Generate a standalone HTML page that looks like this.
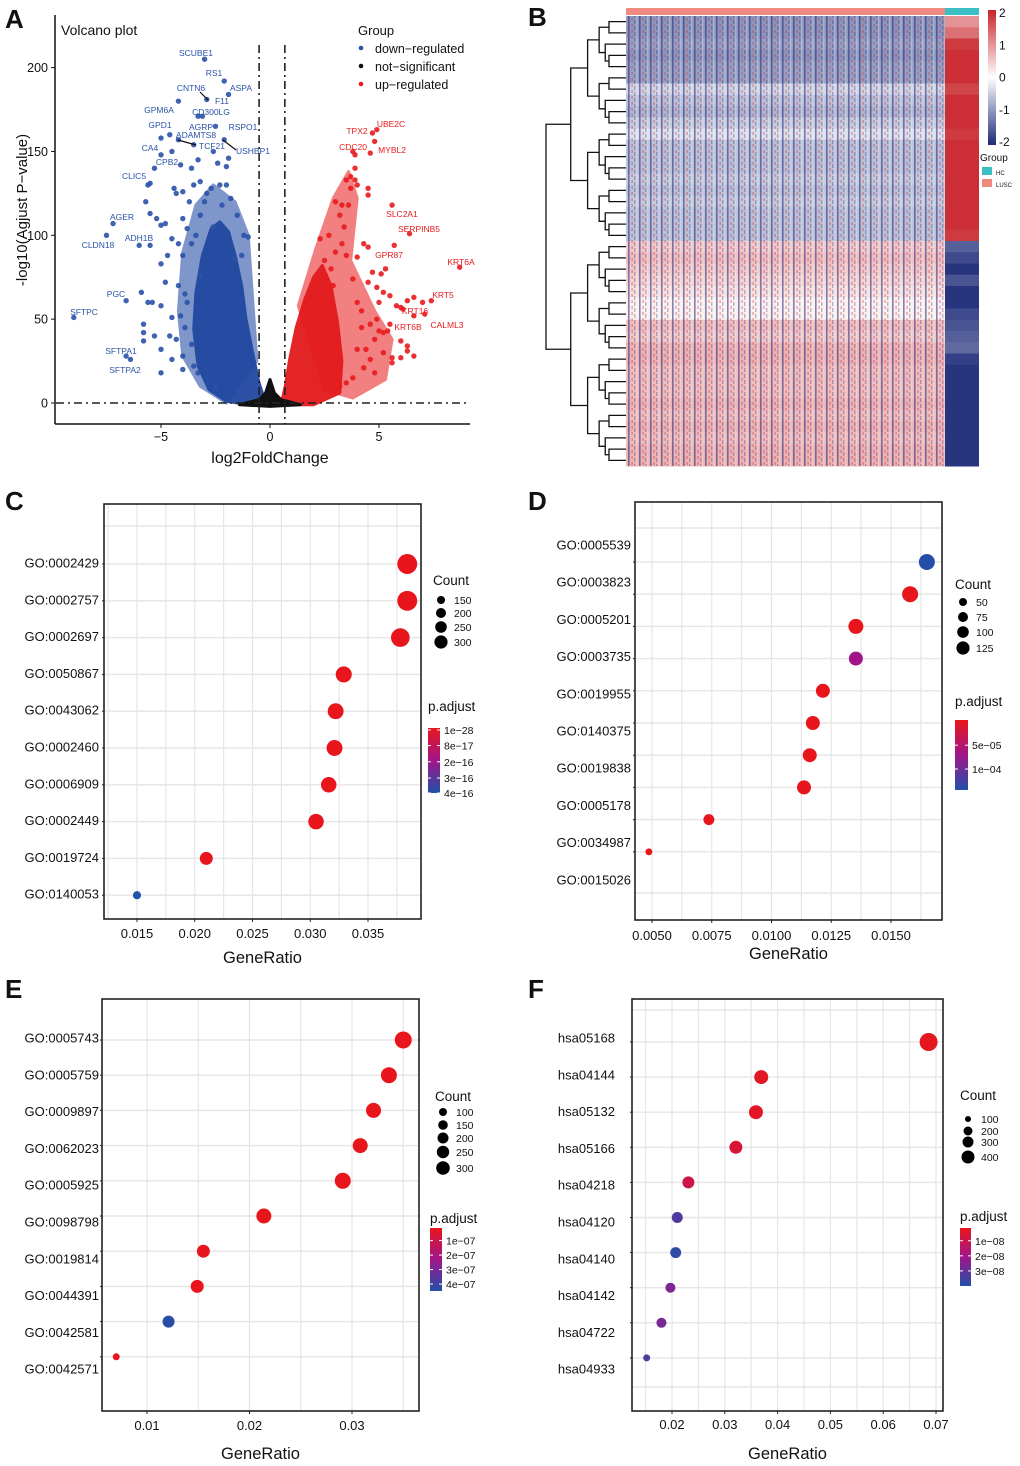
<!DOCTYPE html>
<html><head><meta charset="utf-8"><style>
html,body{margin:0;padding:0;background:#fff;}
svg{display:block;font-family:"Liberation Sans",Arial,sans-serif;}
</style></head><body>
<svg id="fig" width="1020" height="1466" viewBox="0 0 1020 1466" xmlns="http://www.w3.org/2000/svg">
<defs>
<pattern id="stripes" width="11" height="6" patternUnits="userSpaceOnUse">
<rect x="1" y="0" width="1.6" height="6" fill="#1c2a78" opacity="0.55"/>
<rect x="4.5" y="0" width="1.2" height="3" fill="#d02028" opacity="0.45"/>
<rect x="7" y="2" width="1.4" height="4" fill="#1c2a78" opacity="0.3"/>
<rect x="9.3" y="0" width="1" height="6" fill="#ffffff" opacity="0.35"/>
</pattern>
<linearGradient id="gradp" x1="0" y1="0" x2="0" y2="1">
<stop offset="0" stop-color="#e8161c"/><stop offset="0.5" stop-color="#a0168a"/><stop offset="1" stop-color="#2150a8"/>
</linearGradient>
<linearGradient id="gradh" x1="0" y1="0" x2="0" y2="1">
<stop offset="0" stop-color="#c8242a"/><stop offset="0.5" stop-color="#ffffff"/><stop offset="1" stop-color="#1c2a78"/>
</linearGradient>
</defs>
<g id="layer"></g>
</svg>
<script>
// ===== Panel A data (volcano) =====
const downPts = [[-3.0,205],[-2.1,192],[-1.9,184],[-2.9,181],[-4.2,180],[-3.3,171],[-3.1,171],[-2.5,165],[-4.6,160],[-5.0,158],[-4.2,157],[-3.5,154],[-2.1,157],[-5.0,148],[-4.5,150],[-4.1,142],[-5.3,140],[-5.5,131],[-5.6,130],[-7.2,107],[-7.5,100],[-6.0,94],[-5.5,94],[-6.6,61],[-9.0,51],[-5.9,66],[-6.6,28],[-6.4,26],
[-5.7,120],[-5.5,113],[-5.2,110],[-5.0,106],[-4.8,107],[-4.5,98],[-5.0,83],[-4.0,88],[-4.8,72],[-5.8,47],[-5.8,42],[-5.8,37],[-5.0,58],[-5.6,60],[-5.4,60],[-5.3,40],[-4.6,40],[-5.0,32],[-4.3,38],[-4.0,28],[-4.5,26],[-5.0,18],[-3.5,22],[-3.3,18],[-4.0,20],[-2.5,10],[-4.5,51],[-3.8,60],[-3.2,76],[-3.2,132],[-3.5,130],[-4.0,126],[-4.3,125],[-3.7,120],[-3.0,120],[-2.7,128],[-2.3,130],[-2.0,130],[-1.8,122],[-1.5,112],[-1.2,100],[-1.0,99],[-2.4,143],[-2.0,141],[-1.9,146],[-2.6,150],[-3.3,145],[-3.6,140],[-4.4,128],[-4.0,110],[-3.8,104],[-3.2,112],[-2.6,105],[-1.6,86],[-1.3,88],[-4.2,70],[-3.9,65],[-4.2,95],[-4.7,88],[-3.6,95],[-3.9,45],[-4.1,52],[-3.6,35],[-2.9,125],[-3.4,100],[-2.2,118]];
const upPts = [[4.9,163],[4.7,161],[4.8,156],[3.8,150],[3.9,148],[4.6,149],[5.6,118],[6.4,101],[5.7,94],[8.7,81],[7.4,61],[7.0,60],[6.6,63],[6.3,61],[6.0,57],[5.8,58],[6.1,56],[7.1,53],[6.6,52],[5.5,47],[5.4,43],[6.0,37],[6.3,34],[6.3,31],
[3.7,135],[3.9,133],[3.5,133],[4.0,130],[4.5,128],[4.5,124],[3.3,118],[3.0,120],[3.2,112],[2.7,100],[2.3,98],[4.3,95],[4.5,93],[4.0,87],[4.7,78],[5.1,77],[5.3,80],[4.5,72],[4.9,69],[5.0,60],[5.2,66],[5.5,64],[4.9,50],[4.6,47],[5.0,43],[4.2,45],[5.2,42],[4.8,38],[4.4,32],[4.0,32],[5.2,30],[5.6,27],[6.0,27],[5.6,24],[4.6,26],[4.3,21],[3.8,15],[3.5,12],[4.8,18],[3.2,10],[6.6,28],[4.0,60],[3.8,74],[3.0,90],[3.5,88],[2.8,80],[3.4,105],[2.5,85],[3.6,118],[3.9,140],[3.7,128],[3.3,95],[2.9,70],[4.2,55]];
const downCloud = [[-0.2,0],[-0.5,12],[-0.8,30],[-1.1,50],[-1.3,70],[-1.6,88],[-1.9,102],[-2.3,108],[-2.7,104],[-3.1,88],[-3.4,66],[-3.5,44],[-3.3,22],[-2.8,8],[-2.0,1],[-1.0,-1]];
const downHalo = [[-1.0,100],[-1.6,120],[-2.6,130],[-3.4,118],[-4.0,90],[-4.2,55],[-4.0,28],[-3.2,10],[-2.0,0],[-0.6,25]];
const upCloud = [[0.5,-1],[0.7,10],[0.9,26],[1.2,45],[1.6,62],[2.0,75],[2.4,82],[2.8,70],[3.1,48],[3.3,25],[3.2,6],[2.0,-1]];
const upHalo = [[1.3,58],[2.1,92],[2.9,122],[3.6,138],[4.0,122],[3.7,85],[4.8,55],[5.6,38],[5.3,14],[3.8,3],[2.5,8]];
const nsCloud = [[-1.4,-1],[-0.5,2],[-0.2,6],[0,14],[0.2,6],[0.5,2],[1.4,-1],[0,-2]];
const geneLabels = ["SCUBE1","RS1","CNTN6","ASPA","F11","GPM6A","CD300LG","GPD1","AGRP","RSPO1","ADAMTS8","TCF21","CA4","USHBP1","CPB2","CLIC5","AGER","ADH1B","CLDN18","PGC","SFTPC","SFTPA1","SFTPA2","TPX2","UBE2C","CDC20","MYBL2","SLC2A1","SERPINB5","GPR87","KRT6A","KRT5","KRT16","KRT6B","CALML3"];
const geneLabelUp = [0,0,0,0,0,0,0,0,0,0,0,0,0,0,0,0,0,0,0,0,0,0,0,1,1,1,1,1,1,1,1,1,1,1,1];
const xTicksA = [-5,0,5];
const yTicksA = [0,50,100,150,200];

// ===== Panel B data (heatmap row means) =====
const heatLusc = [-1.0,-1.0,-0.9,-1.0,-0.9,-0.9,-0.4,-0.6,-0.7,-0.5,-0.3,-0.6,-0.6,-0.6,-0.5,-0.6,-0.5,-0.6,-0.6,-0.6,0.5,0.6,0.5,0.4,0.3,0.15,0.15,0.6,0.5,0.7,0.7,0.6,0.6,0.6,0.7,0.6,0.7,0.6,0.7,0.7];
const heatHC = [1.0,1.3,1.8,1.9,1.9,1.9,1.7,1.9,1.9,1.9,1.8,1.9,1.9,1.9,1.9,1.9,1.9,1.9,1.9,1.8,-1.5,-1.7,-1.9,-1.6,-1.9,-1.9,-1.7,-1.6,-1.5,-1.4,-1.8,-1.9,-1.9,-1.9,-1.9,-1.9,-1.9,-1.9,-1.9,-1.9];
const heatTicks = [2,1,0,-1,-2];

// ===== Panel C =====
const cTerms = ["GO:0002429","GO:0002757","GO:0002697","GO:0050867","GO:0043062","GO:0002460","GO:0006909","GO:0002449","GO:0019724","GO:0140053"];
const cRatio = [0.0384,0.0384,0.0378,0.0329,0.0322,0.0321,0.0316,0.0305,0.0210,0.0150];
const cCount = [330,330,290,215,210,210,200,200,140,55];
const cPadj = [1e-28,1e-28,1e-28,1e-28,1e-28,1e-28,1e-28,1e-28,1e-28,4e-16];
const cXTicks = [0.015,0.020,0.025,0.030,0.035];
const cXTickLabels = ["0.015","0.020","0.025","0.030","0.035"];
const cCountLegend = [150,200,250,300];
const cPLegend = ["1e\u221228","8e\u221217","2e\u221216","3e\u221216","4e\u221216"];
// ===== Panel D =====
const dTerms = ["GO:0005539","GO:0003823","GO:0005201","GO:0003735","GO:0019955","GO:0140375","GO:0019838","GO:0005178","GO:0034987","GO:0015026"];
const dRatio = [0.0165,0.0158,0.01353,0.01353,0.01215,0.01173,0.0116,0.01136,0.00738,0.00487];
const dCount = [111,111,97,85,85,85,85,85,52,21];
const dPadj = [1.45e-4,1e-6,1e-6,7.3e-5,1e-6,1e-6,1e-6,1e-6,1e-6,1e-6];
const dXTicks = [0.005,0.0075,0.010,0.0125,0.015];
const dXTickLabels = ["0.0050","0.0075","0.0100","0.0125","0.0150"];
const dCountLegend = [50,75,100,125];
const dPLegend = ["5e\u221205","1e\u221204"];
// ===== Panel E =====
const eTerms = ["GO:0005743","GO:0005759","GO:0009897","GO:0062023","GO:0005925","GO:0098798","GO:0019814","GO:0044391","GO:0042581","GO:0042571"];
const eRatio = [0.0350,0.0336,0.0321,0.0308,0.0291,0.0214,0.0155,0.0149,0.0121,0.0070];
const eCount = [267,237,208,208,237,208,156,156,133,45];
const ePadj = [1e-8,1e-8,1e-8,1e-8,1e-8,1e-8,1e-8,1e-8,4.2e-7,1e-8];
const eXTicks = [0.01,0.02,0.03];
const eXTickLabels = ["0.01","0.02","0.03"];
const eCountLegend = [100,150,200,250,300];
const ePLegend = ["1e\u221207","2e\u221207","3e\u221207","4e\u221207"];
// ===== Panel F =====
const fTerms = ["hsa05168","hsa04144","hsa05132","hsa05166","hsa04218","hsa04120","hsa04140","hsa04142","hsa04722","hsa04933"];
const fRatio = [0.0686,0.0369,0.0359,0.0321,0.0231,0.0210,0.0207,0.0197,0.0180,0.0152];
const fCount = [359,217,217,187,160,134,134,111,111,54];
const fPadj = [0.2e-8,0.3e-8,0.3e-8,0.6e-8,0.9e-8,3.3e-8,3.8e-8,2.6e-8,2.7e-8,3.3e-8];
const fXTicks = [0.02,0.03,0.04,0.05,0.06,0.07];
const fXTickLabels = ["0.02","0.03","0.04","0.05","0.06","0.07"];
const fCountLegend = [100,200,300,400];
const fPLegend = ["1e\u221208","2e\u221208","3e\u221208"];

const NS = "http://www.w3.org/2000/svg";
const root = document.getElementById('layer');
function mk(tag, attrs, parent, text){
  const e = document.createElementNS(NS, tag);
  for (const k in attrs) e.setAttribute(k, attrs[k]);
  if (text !== undefined) e.textContent = text;
  (parent || root).appendChild(e);
  return e;
}
function grp(name, parent){
  const g = mk('g', {}, parent);
  
  
  return g;
}
function txt(parent, x, y, s, size, anchor, name, extra){
  const a = Object.assign({x:x, y:y, 'font-size':size, 'text-anchor':anchor||'start', fill:'#111'}, extra||{});
  const t = mk('text', a, parent, s);
  
  
  return t;
}
function lerp(a,b,t){return a+(b-a)*t;}
function hex(c){return [parseInt(c.slice(1,3),16),parseInt(c.slice(3,5),16),parseInt(c.slice(5,7),16)];}
function mix3(c0,c1,c2,t){
  t = Math.max(0,Math.min(1,t));
  let a,b,u; if (t<0.5){a=hex(c0);b=hex(c1);u=t*2;} else {a=hex(c1);b=hex(c2);u=(t-0.5)*2;}
  return 'rgb('+Math.round(lerp(a[0],b[0],u))+','+Math.round(lerp(a[1],b[1],u))+','+Math.round(lerp(a[2],b[2],u))+')';
}

[['A',5,28],['B',528,26],['C',5,510],['D',528,510],['E',5,998],['F',528,998]].forEach(function(p){
  txt(root, p[1], p[2], p[0], 26, 'start', 'panel-label-'+p[0].toLowerCase(), {'font-weight':'bold'});
});

// ===== Panel A =====
(function(){
  const g = grp('volcano-plot');
  const X = v => 270 + v*21.8;
  const Y = v => 403 - v*1.677;
  const poly = (pts, fill, op, name) => {
    const p = mk('polygon', {points: pts.map(q => X(q[0]).toFixed(1)+','+Y(q[1]).toFixed(1)).join(' '), fill: fill, opacity: op, 'stroke-linejoin':'round', stroke: fill, 'stroke-width': 3}, g);
    
    
  };
  poly(downHalo, '#2a52a8', 0.6, 'down-regulated-sparse-cloud');
  poly(upHalo, '#e8191c', 0.55, 'up-regulated-sparse-cloud');
  poly(downCloud, '#2148a0', 0.95, 'down-regulated-dense-cloud');
  poly(upCloud, '#e31a1c', 0.95, 'up-regulated-dense-cloud');
  poly(nsCloud, '#111', 1, 'not-significant-cloud');
  downPts.forEach(function(p){
    const c = mk('circle', {cx: X(p[0]), cy: Y(p[1]), r: 2.7, fill: '#2a52a8', opacity: 0.9}, g);
    
    
  });
  upPts.forEach(function(p){
    const c = mk('circle', {cx: X(p[0]), cy: Y(p[1]), r: 2.7, fill: '#e8191c', opacity: 0.9}, g);
    
    
  });
  mk('line', {x1: X(-0.5), y1: 45, x2: X(-0.5), y2: 424, stroke:'#222', 'stroke-width':1.6, 'stroke-dasharray':'8,4,2,4'}, g);
  mk('line', {x1: X(0.68), y1: 45, x2: X(0.68), y2: 424, stroke:'#222', 'stroke-width':1.6, 'stroke-dasharray':'8,4,2,4'}, g);
  mk('line', {x1: 56, y1: Y(0), x2: 470, y2: Y(0), stroke:'#222', 'stroke-width':1.6, 'stroke-dasharray':'8,4,2,4'}, g);
  mk('line', {x1:55, y1:15, x2:55, y2:424, stroke:'#111', 'stroke-width':1.5}, g);
  mk('line', {x1:55, y1:424, x2:470, y2:424, stroke:'#111', 'stroke-width':1.5}, g);
  yTicksA.forEach(function(v){
    mk('line', {x1:51, y1:Y(v), x2:55, y2:Y(v), stroke:'#111'}, g);
    txt(g, 48, Y(v)+4.5, String(v), 12.5, 'end', 'y-tick-label');
  });
  xTicksA.forEach(function(v){
    mk('line', {x1:X(v), y1:424, x2:X(v), y2:428, stroke:'#111'}, g);
    txt(g, X(v), 441, v<0 ? '\u2212'+Math.abs(v) : String(v), 12.5, 'middle', 'x-tick-label');
  });
  txt(g, 270, 463, 'log2FoldChange', 16, 'middle', 'x-axis-title');
  txt(g, 0, 0, '-log10(Agjust P\u2212value)', 15, 'middle', 'y-axis-title', {transform:'translate(27,210) rotate(-90)'});
  txt(g, 61, 35, 'Volcano plot', 14, 'start', 'plot-title');
  const lg = grp('volcano-legend', g);
  txt(lg, 358, 35, 'Group', 13, 'start', 'legend-title');
  [['down\u2212regulated','#2a52a8'],['not\u2212significant','#111'],['up\u2212regulated','#e8191c']].forEach(function(it,i){
    mk('circle', {cx:361, cy:48+i*18, r:2.3, fill:it[1]}, lg);
    txt(lg, 375, 53+i*18, it[0], 12.5, 'start', 'legend-entry');
  });
  const labPos = [[196,53],[214,73],[191,88],[241,88],[222,101],[159,110],[211,112],[160,125],[201,127],[243,127],[196,135],[212,146],[150,148],[253,151],[167,162],[134,176],[122,217],[139,238],[98,245],[116,294],[84,312],[121,351],[125,370],[357,131],[391,124],[353,147],[392,150],[402,214],[419,229],[389,255],[461,262],[443,295],[415,311],[408,327],[447,325]];
  geneLabels.forEach(function(n,i){
    txt(g, labPos[i][0], labPos[i][1]+3, n, 8.5, 'middle', 'gene-label', {fill: geneLabelUp[i] ? '#e8191c' : '#2a52a8'});
  });
  [[200,92,208,100],[178,140,196,145],[223,140,236,150]].forEach(function(l){
    mk('line', {x1:l[0], y1:l[1], x2:l[2], y2:l[3], stroke:'#111', 'stroke-width':1.2}, g);
  });
})();

// ===== Panel B =====
(function(){
  const g = grp('heatmap');
  const top = 16, bot = 466, n = heatLusc.length, rh = (bot-top)/n;
  const col = v => mix3('#c8242a','#ffffff','#1c2a78', (2-v)/4);
  heatLusc.forEach(function(v,i){
    const r = mk('rect', {x:626, y:top+i*rh, width:319, height:rh+0.5, fill: col(v)}, g);
    
    
  });
  heatHC.forEach(function(v,i){
    const r = mk('rect', {x:945, y:top+i*rh, width:34, height:rh+0.5, fill: col(v)}, g);
    
    
  });
  mk('rect', {x:626, y:top, width:319, height:bot-top, fill:'url(#stripes)'}, g);
  const a1 = mk('rect', {x:626, y:8, width:319, height:7, fill:'#f08a80'}, g);
   
  const a2 = mk('rect', {x:945, y:8, width:34, height:7, fill:'#3cbfc4'}, g);
   
  const dg = grp('row-dendrogram', g);
  function build(lo, hi){
    if (hi-lo === 1) return {x:626, y: top + (lo+0.5)*rh};
    const mid = lo + Math.floor((hi-lo)/2);
    const a = build(lo, mid), b = build(mid, hi);
    const x = 626 - Math.pow((hi-lo)/n, 0.55)*78 - 2;
    mk('path', {d:'M'+a.x+','+a.y+'H'+x+'V'+b.y+'H'+b.x, fill:'none', stroke:'#111', 'stroke-width':1.3}, dg);
    return {x:x, y:(a.y+b.y)/2};
  }
  build(0, n);
  const cl = grp('heatmap-color-legend', g);
  mk('rect', {x:988, y:10, width:8, height:135, fill:'url(#gradh)'}, cl);
  heatTicks.forEach(function(v){
    txt(cl, 999, 17+ (2-v)/4*129, String(v), 12, 'start', 'color-legend-label');
  });
  txt(cl, 980, 161, 'Group', 10, 'start', 'group-legend-title');
  mk('rect', {x:982, y:167, width:10, height:8, fill:'#3cbfc4'}, cl);
  txt(cl, 996, 175, 'HC', 6, 'start', 'group-legend-hc');
  mk('rect', {x:982, y:179, width:10, height:8, fill:'#f08a80'}, cl);
  txt(cl, 996, 187, 'LUSC', 6, 'start', 'group-legend-lusc');
})();

// ===== Dot plots =====
function dotPanel(o){
  const g = grp(o.name);
  const X = v => o.px0 + (v - o.v0)/(o.v1 - o.v0)*(o.px1 - o.px0);
  mk('rect', {x:o.fx0, y:o.fy0, width:o.fx1-o.fx0, height:o.fy1-o.fy0, fill:'#fff'}, g);
  const step = o.xticks[1]-o.xticks[0];
  for (let v = o.xticks[0]-step; v <= o.xticks[o.xticks.length-1]+step+1e-12; v += step/2){
    const x = X(v);
    if (x <= o.fx0+1 || x >= o.fx1-1) continue;
    mk('line', {x1:x, y1:o.fy0, x2:x, y2:o.fy1, stroke:'#e6e6e6', 'stroke-width':1.2}, g);
  }
  o.hgrid.forEach(function(y){
    mk('line', {x1:o.fx0, y1:y, x2:o.fx1, y2:y, stroke:'#e6e6e6', 'stroke-width':1.4}, g);
  });
  o.terms.forEach(function(_, i){
    mk('line', {x1:o.fx0, y1:o.dotY(i), x2:o.fx1, y2:o.dotY(i), stroke:'#e6e6e6', 'stroke-width':1.4}, g);
  });
  mk('rect', {x:o.fx0, y:o.fy0, width:o.fx1-o.fx0, height:o.fy1-o.fy0, fill:'none', stroke:'#222', 'stroke-width':1.6}, g);
  o.ratio.forEach(function(v, i){
    const t = (o.padj[i] - o.p0)/(o.p1 - o.p0);
    const c = mk('circle', {cx:X(v), cy:o.dotY(i), r:o.k*Math.sqrt(o.count[i]), fill:mix3('#e8161c','#a0168a','#2150a8', t)}, g);
    
    
  });
  o.terms.forEach(function(s, i){
    txt(g, o.labX, o.labY(i)+4.5, s, 13, 'end', 'y-tick-label');
    mk('line', {x1:o.fx0-2, y1:o.dotY(i), x2:o.fx0, y2:o.dotY(i), stroke:'#222'}, g);
  });
  o.xticks.forEach(function(v, i){
    mk('line', {x1:X(v), y1:o.fy1, x2:X(v), y2:o.fy1+3, stroke:'#222'}, g);
    txt(g, X(v), o.tickY, o.xlabels[i], 13, 'middle', 'x-tick-label');
  });
  txt(g, (o.fx0+o.fx1)/2, o.titleY, 'GeneRatio', 16.5, 'middle', 'x-axis-title');
  const lc = grp('count-legend', g);
  txt(lc, o.cx, o.cy, 'Count', 13.5, 'start', 'count-legend-title');
  o.countLeg.forEach(function(v, i){
    mk('circle', {cx:o.cx+8, cy:o.cy+o.cly[i], r:o.clr[i], fill:'#000'}, lc);
    txt(lc, o.cx+21, o.cy+o.cly[i]+4, String(v), 10.5, 'start', 'count-legend-entry');
  });
  const lp = grp('padjust-legend', g);
  txt(lp, o.px, o.py, 'p.adjust', 13.5, 'start', 'padjust-legend-title');
  mk('rect', {x:o.px, y:o.py+o.barTop, width:o.barW, height:o.barH, fill:'url(#gradp)'}, lp);
  o.pLeg.forEach(function(s, i){
    const y = o.py + o.barTop + o.pFrac[i]*o.barH;
    mk('line', {x1:o.px, y1:y, x2:o.px+3, y2:y, stroke:'#fff'}, lp);
    mk('line', {x1:o.px+o.barW-3, y1:y, x2:o.px+o.barW, y2:y, stroke:'#fff'}, lp);
    txt(lp, o.px+o.barW+4, y+4, s, 10.5, 'start', 'padjust-legend-entry');
  });
}

dotPanel({name:'dotplot-c', terms:cTerms, ratio:cRatio, count:cCount, padj:cPadj, p0:1e-28, p1:4e-16,
  k:0.548, fx0:104, fx1:421, fy0:504, fy1:919, v0:0.015, v1:0.035, px0:137, px1:368,
  xticks:cXTicks, xlabels:cXTickLabels, hgrid:[526], dotY:i=>564+i*36.8, labY:i=>563+i*36.8, labX:99,
  tickY:938, titleY:963, cx:433, cy:585, countLeg:cCountLegend, cly:[15,28,42,57], clr:[4,5,5.8,6.6],
  px:428, py:711, barTop:17, barW:12, barH:65, pLeg:cPLegend, pFrac:[0.03,0.27,0.52,0.77,1.0]});

dotPanel({name:'dotplot-d', terms:dTerms, ratio:dRatio, count:dCount, padj:dPadj, p0:0, p1:1.47e-4,
  k:0.76, fx0:635, fx1:942, fy0:502, fy1:920, v0:0.005, v1:0.015, px0:652, px1:891,
  xticks:dXTicks, xlabels:dXTickLabels, hgrid:[528,893], dotY:i=>562+i*32.2, labY:i=>545+i*37.2, labX:631,
  tickY:940, titleY:959, cx:955, cy:589, countLeg:dCountLegend, cly:[13,28,43,59], clr:[4,5,5.8,6.6],
  px:955, py:706, barTop:14, barW:13, barH:70, pLeg:dPLegend, pFrac:[0.36,0.7]});

dotPanel({name:'dotplot-e', terms:eTerms, ratio:eRatio, count:eCount, padj:ePadj, p0:1e-8, p1:4.3e-7,
  k:0.52, fx0:102, fx1:419, fy0:999, fy1:1411, v0:0.01, v1:0.03, px0:147, px1:352,
  xticks:eXTicks, xlabels:eXTickLabels, hgrid:[], dotY:i=>1040+i*35.2, labY:i=>1038+i*36.8, labX:99,
  tickY:1430, titleY:1459, cx:435, cy:1101, countLeg:eCountLegend, cly:[11,24,37,51,67], clr:[4,4.8,5.5,6.2,6.8],
  px:430, py:1223, barTop:5, barW:12, barH:63, pLeg:ePLegend, pFrac:[0.2,0.43,0.66,0.89]});

dotPanel({name:'dotplot-f', terms:fTerms, ratio:fRatio, count:fCount, padj:fPadj, p0:0.15e-8, p1:4.0e-8,
  k:0.475, fx0:632, fx1:943, fy0:999, fy1:1411, v0:0.02, v1:0.07, px0:672, px1:936,
  xticks:fXTicks, xlabels:fXTickLabels, hgrid:[1010,1387], dotY:i=>1042+i*35.1, labY:i=>1038+i*36.8, labX:615,
  tickY:1429, titleY:1459, cx:960, cy:1100, countLeg:fCountLegend, cly:[19,31,42,57], clr:[3,4.5,5.5,6.5],
  px:960, py:1221, barTop:7, barW:11, barH:58, pLeg:fPLegend, pFrac:[0.22,0.48,0.74]});
</script>
</body></html>
